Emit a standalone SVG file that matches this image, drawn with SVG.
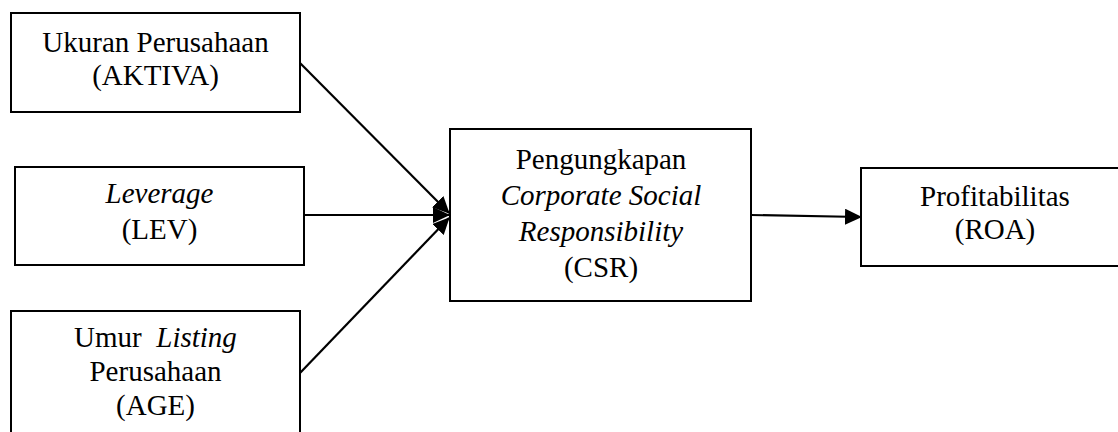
<svg xmlns="http://www.w3.org/2000/svg" width="1118" height="432" viewBox="0 0 1118 432">
<style>
.box{fill:#fff;stroke:#000;stroke-width:2}
text{font-family:'Liberation Serif','Times New Roman',serif;font-size:29px;fill:#000;text-anchor:middle}
.i{font-style:italic}
.c{stroke:#000;stroke-width:2.2;fill:none}
</style>
<defs>
<marker id="ah" markerUnits="userSpaceOnUse" markerWidth="17" markerHeight="16" refX="16" refY="8" orient="auto">
<path d="M0,0 L17,8 L0,16 z" fill="#000"/>
</marker>
</defs>
<rect width="1118" height="432" fill="#fff"/>
<g id="connectors">
<line class="c" x1="300" y1="63" x2="449" y2="213" marker-end="url(#ah)"/>
<line class="c" x1="304" y1="215" x2="449" y2="215" marker-end="url(#ah)"/>
<line class="c" x1="300" y1="373" x2="449" y2="218" marker-end="url(#ah)"/>
<line class="c" x1="751" y1="215" x2="861" y2="217" marker-end="url(#ah)"/>
</g>
<g id="aktiva">
<rect class="box" x="11" y="13" width="289" height="99"/>
<text x="155.5" y="52">Ukuran Perusahaan</text>
<text x="155.5" y="85">(AKTIVA)</text>
</g>
<g id="lev">
<rect class="box" x="15" y="167" width="289" height="98"/>
<text class="i" x="159.5" y="203">Leverage</text>
<text x="159.5" y="239">(LEV)</text>
</g>
<g id="age">
<rect class="box" x="11" y="311" width="289" height="140"/>
<text x="155.5" y="347" style="white-space:pre" xml:space="preserve">Umur  <tspan class="i">Listing</tspan></text>
<text x="155.5" y="381">Perusahaan</text>
<text x="155.5" y="415">(AGE)</text>
</g>
<g id="csr">
<rect class="box" x="450" y="129" width="301" height="172"/>
<text x="601" y="169">Pengungkapan</text>
<text class="i" x="601" y="205">Corporate Social</text>
<text class="i" x="601" y="241">Responsibility</text>
<text x="601" y="277">(CSR)</text>
</g>
<g id="roa">
<rect class="box" x="861" y="168" width="280" height="98"/>
<text x="995" y="206">Profitabilitas</text>
<text x="995" y="239">(ROA)</text>
</g>
</svg>
